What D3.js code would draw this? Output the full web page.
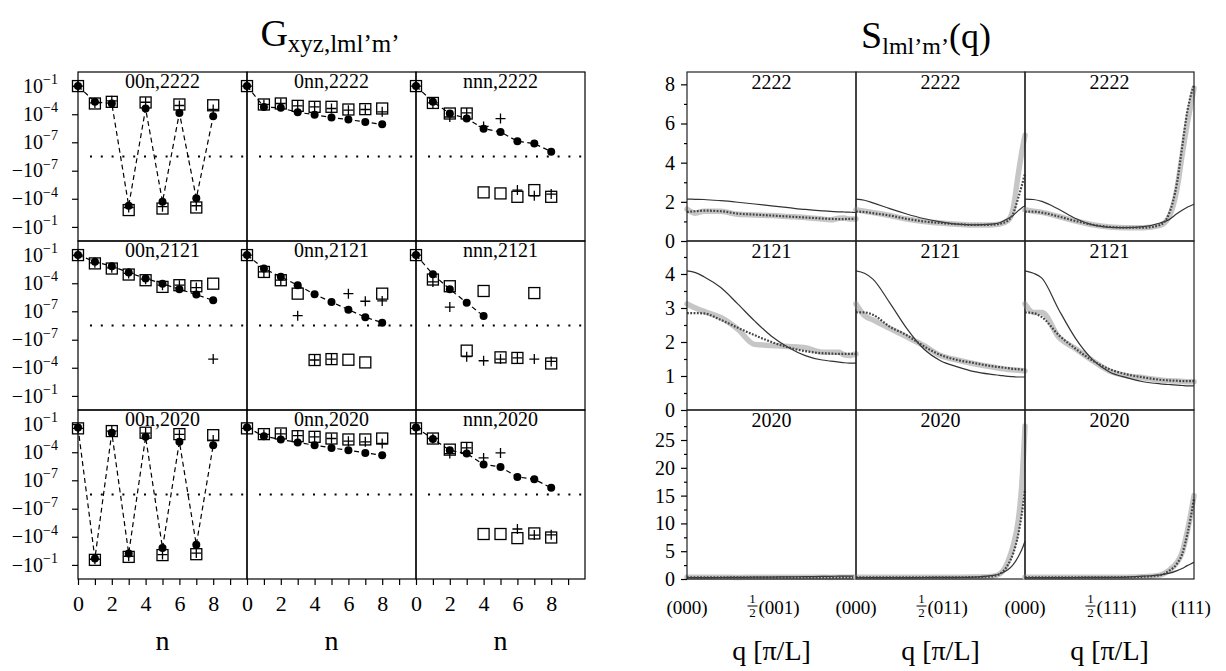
<!DOCTYPE html>
<meta charset="utf-8">
<style>
body { margin: 0; background: #fff; }
text { font-family: "Liberation Serif", "DejaVu Serif", serif; fill: #000; }
</style>
<svg width="1226" height="671"></svg>
<script src="https://cdn.jsdelivr.net/npm/d3@7"></script>
<script>
// ---- data -------------------------------------------------------------
var nValues = [0, 1, 2, 3, 4, 5, 6, 7, 8];
var shellCols = ['00n', '0nn', 'nnn'];
var channels = ['2222', '2121', '2020'];
var gTicks = [1e-1, 1e-4, 1e-7, -1e-7, -1e-4, -1e-1];

// G values, one list per column (00n, 0nn, nnn)
var circles2222 = [
	[1e-1, 2.1e-3, 1.4e-3, -5.6e-4, 4e-4, -2.1e-4, 1.4e-4, -9e-5, 6e-5],
	[1e-1, 6e-4, 4.8e-4, 1.6e-4, 9e-5, 4.4e-5, 2.7e-5, 1.5e-5, 8.5e-6],
	[1e-1, 2.1e-3, 1.2e-4, 3.5e-5, 2.9e-6, 1.3e-6, 1.3e-7, 7.2e-8, 7.2e-9]
];
var squares2222 = [
	[1e-1, 1.4e-3, 2.1e-3, -1.6e-3, 1.8e-3, -1.1e-3, 1.1e-3, -8.5e-4, 9e-4],
	[1e-1, 1.1e-3, 1.4e-3, 7.8e-4, 6.2e-4, 6.2e-4, 3.2e-4, 3.5e-4, 4.1e-4],
	[1e-1, 1.6e-3, 1.2e-4, 1.2e-4, -2.1e-5, -2.7e-5, -6.2e-5, -1.2e-5, -6.2e-5]
];
var plus2222 = [
	[1e-1, 1.6e-3, 2.7e-3, -8.5e-4, 1.9e-3, -7e-4, 8.5e-4, -5.6e-4, 3.2e-4],
	[1e-1, 1.1e-3, 1.4e-3, 7.8e-4, 6.2e-4, 4.1e-4, 2.7e-4, 3.2e-4, 1.8e-4],
	[1e-1, 1.6e-3, 5.1e-5, 1.4e-4, 5.1e-6, 3.5e-5, -1.2e-5, -4.8e-5, -3.2e-5]
];
var circles2121 = [
	[1e-1, 2e-2, 6.6e-3, 1.4e-3, 3.2e-4, 9e-5, 2.3e-5, 6.2e-6, 1.5e-6],
	[1e-1, 3.7e-3, 4.8e-4, 6.2e-5, 6.6e-6, 1e-6, 1.5e-7, 2.1e-8, 3.2e-9],
	[1e-1, 9e-4, 2.3e-5, 8.5e-7, 2.9e-8]
];
var squares2121 = [
	[1e-1, 1.3e-2, 3.7e-3, 8.5e-4, 2.1e-4, 4.1e-5, 6.2e-5, 4.8e-5, 9e-5],
	[1e-1, 1.6e-3, 2.1e-4, 7.8e-6, -1.5e-5, -1.2e-5, -1.4e-5, -2.7e-5, 7.8e-6],
	[1e-1, 2.5e-4, 4.8e-5, -1.5e-6, 1.5e-5, -7.8e-6, -9e-6, 9e-6, -3.5e-5]
];
var plus2121 = [
	[1e-1, 1.5e-2, 4.4e-3, 1.1e-3, 2.7e-4, 6.2e-5, 6.2e-5, 3.5e-5, -1.2e-5],
	[1e-1, 1.6e-3, 2.1e-4, 3.2e-8, -1.5e-5, -1.2e-5, 7.8e-6, 1.2e-6, 1.3e-6],
	[1e-1, 1.4e-4, 2.9e-7, -6.6e-6, -1.8e-5, -1.2e-5, -9e-6, -1.2e-5, -2.1e-5]
];
var circles2020 = [
	[4.4e-2, -2.1e-2, 1.2e-2, -6.2e-3, 4.4e-3, -1.6e-3, 1.3e-3, -7.2e-4, 5.6e-4],
	[4.4e-2, 5.1e-3, 2.3e-3, 1.1e-3, 5.6e-4, 2.9e-4, 1.6e-4, 8.5e-5, 4.8e-5],
	[4.4e-2, 2.5e-3, 1.6e-4, 7.2e-5, 5.1e-6, 2.7e-6, 2.3e-7, 1.3e-7, 1.3e-8]
];
var squares2020 = [
	[3.5e-2, -2.9e-2, 1.8e-2, -1.4e-2, 1.2e-2, -9e-3, 8.5e-3, -7.2e-3, 6.6e-3],
	[3.5e-2, 8.5e-3, 1e-2, 5.1e-3, 4.4e-3, 2.9e-3, 2.3e-3, 2.3e-3, 2.9e-3],
	[3.5e-2, 2.9e-3, 1.9e-4, 2.9e-4, -5.1e-5, -5.1e-5, -1.4e-4, -4.4e-5, -1.2e-4]
];
var plus2020 = [
	[3.5e-2, -2.5e-2, 1.8e-2, -1.2e-2, 1.1e-2, -8e-3, 8e-3, -5.5e-3, 2e-3],
	[3.5e-2, 8e-3, 9e-3, 6e-3, 4.4e-3, 2.9e-3, 1.5e-3, 1.3e-3, 8.5e-4],
	[3.5e-2, 2.9e-3, 7.2e-5, 2.9e-4, 2.5e-5, 8.5e-5, -1.5e-5, -6.6e-5, -6.2e-5]
];

// S(q): q along each path, 0 .. 1
var qGrid = [0, 0.05, 0.1, 0.2, 0.3, 0.4, 0.5, 0.6, 0.7, 0.8, 0.85, 0.9, 0.93, 0.96, 0.98, 1];
var pathStart = ['(000)', '(000)', '(000)'];
var pathMid = ['(001)', '(011)', '(111)'];
var pathEnd = '(111)';
var sMax = [8.63, 4.97, 30.4];
var sMajor = [[0, 2, 4, 6, 8], [0, 1, 2, 3, 4], [0, 5, 10, 15, 20, 25]];
var sMinor = [[1, 3, 5, 7], [0.5, 1.5, 2.5, 3.5, 4.5], [2.5, 7.5, 12.5, 17.5, 22.5, 27.5]];

var gray2222 = [
	[1.62, 1.42, 1.52, 1.52, 1.36, 1.33, 1.3, 1.25, 1.2, 1.12, 1.08, 1.16, 1.18, 1.12, 1.12, 1.13],
	[1.6, 1.52, 1.45, 1.3, 1.12, 1.0, 0.92, 0.86, 0.82, 0.82, 0.86, 1.05, 1.65, 3.4, 4.5, 5.4],
	[1.6, 1.52, 1.46, 1.25, 1.02, 0.83, 0.72, 0.68, 0.68, 0.8, 1.2, 2.7, 4.4, 6.0, 6.9, 7.8]
];
var fit2222 = [
	[1.48, 1.52, 1.55, 1.52, 1.4, 1.35, 1.3, 1.25, 1.2, 1.15, 1.13, 1.12, 1.12, 1.13, 1.13, 1.14],
	[1.5, 1.48, 1.42, 1.3, 1.13, 1.0, 0.92, 0.86, 0.82, 0.83, 0.88, 1.05, 1.4, 2.2, 2.8, 3.44],
	[1.5, 1.5, 1.45, 1.25, 1.02, 0.83, 0.72, 0.68, 0.68, 0.82, 1.35, 3.0, 4.8, 6.6, 7.4, 7.95]
];
var model2222 = [
	[2.14, 2.13, 2.12, 2.06, 1.98, 1.89, 1.79, 1.7, 1.61, 1.54, 1.51, 1.49, 1.48, 1.47, 1.465, 1.46],
	[2.14, 2.08, 1.95, 1.65, 1.38, 1.15, 0.98, 0.86, 0.82, 0.86, 0.93, 1.15, 1.3, 1.55, 1.68, 1.8],
	[2.14, 2.12, 2.02, 1.62, 1.15, 0.82, 0.7, 0.68, 0.73, 0.92, 1.08, 1.4, 1.57, 1.72, 1.8, 1.88]
];
var gray2121 = [
	[3.12, 3.0, 2.9, 2.72, 2.38, 1.93, 1.9, 1.87, 1.83, 1.7, 1.7, 1.7, 1.62, 1.6, 1.62, 1.65],
	[3.12, 2.78, 2.65, 2.4, 2.15, 1.9, 1.6, 1.47, 1.36, 1.27, 1.23, 1.19, 1.18, 1.17, 1.16, 1.15],
	[3.12, 2.87, 2.87, 2.14, 1.8, 1.45, 1.15, 1.01, 0.95, 0.88, 0.86, 0.85, 0.84, 0.83, 0.83, 0.83]
];
var fit2121 = [
	[2.85, 2.85, 2.84, 2.65, 2.42, 2.2, 2.0, 1.84, 1.73, 1.67, 1.66, 1.65, 1.65, 1.65, 1.65, 1.65],
	[2.87, 2.87, 2.8, 2.45, 2.2, 1.88, 1.62, 1.47, 1.38, 1.29, 1.26, 1.23, 1.21, 1.2, 1.19, 1.19],
	[2.87, 2.85, 2.73, 2.2, 1.8, 1.45, 1.2, 1.05, 0.96, 0.89, 0.87, 0.86, 0.85, 0.85, 0.85, 0.85]
];
var model2121 = [
	[4.09, 4.04, 3.92, 3.6, 3.12, 2.62, 2.17, 1.84, 1.6, 1.47, 1.44, 1.41, 1.39, 1.38, 1.38, 1.38],
	[4.09, 4.02, 3.85, 3.15, 2.4, 1.8, 1.45, 1.27, 1.13, 1.05, 1.02, 0.99, 0.98, 0.97, 0.97, 0.97],
	[4.09, 4.02, 3.88, 2.95, 2.1, 1.48, 1.12, 0.95, 0.83, 0.77, 0.75, 0.73, 0.72, 0.71, 0.71, 0.71]
];
var gray2020 = [
	[0.32, 0.3, 0.31, 0.3, 0.29, 0.3, 0.3, 0.31, 0.3, 0.3, 0.29, 0.3, 0.3, 0.3, 0.3, 0.31],
	[0.32, 0.3, 0.3, 0.3, 0.3, 0.3, 0.3, 0.32, 0.35, 0.45, 0.9, 3.2, 6.0, 10.5, 16.5, 27.5],
	[0.32, 0.3, 0.3, 0.3, 0.3, 0.3, 0.31, 0.33, 0.4, 0.7, 1.5, 3.0, 4.8, 8.5, 11.5, 15.0]
];
var fit2020 = [
	[0.3, 0.3, 0.3, 0.3, 0.3, 0.3, 0.3, 0.31, 0.31, 0.31, 0.31, 0.31, 0.31, 0.31, 0.31, 0.31],
	[0.3, 0.3, 0.3, 0.3, 0.3, 0.3, 0.3, 0.31, 0.34, 0.45, 0.9, 2.6, 4.6, 8.0, 11.5, 16.0],
	[0.3, 0.3, 0.3, 0.3, 0.3, 0.3, 0.31, 0.33, 0.4, 0.7, 1.4, 2.8, 4.5, 8.0, 11.0, 14.5]
];
var model2020 = [
	[0.25, 0.25, 0.26, 0.27, 0.29, 0.32, 0.35, 0.38, 0.42, 0.46, 0.48, 0.5, 0.51, 0.52, 0.53, 0.53],
	[0.25, 0.25, 0.25, 0.26, 0.26, 0.27, 0.28, 0.3, 0.35, 0.6, 0.9, 1.7, 2.6, 4.0, 5.2, 6.8],
	[0.25, 0.25, 0.25, 0.26, 0.27, 0.28, 0.3, 0.35, 0.5, 0.75, 1.0, 1.5, 1.9, 2.4, 2.7, 3.0]
];

var circleSets = [circles2222, circles2121, circles2020];
var squareSets = [squares2222, squares2121, squares2020];
var plusSets = [plus2222, plus2121, plus2020];
var graySets = [gray2222, gray2121, gray2020];
var fitSets = [fit2222, fit2121, fit2020];
var modelSets = [model2222, model2121, model2020];

// ---- layout -----------------------------------------------------------
var svg = d3.select('svg');
var serif = '"Liberation Serif", "DejaVu Serif", serif';
var rowTop = [72, 241, 410],
	rowH = 169,
	colW = 169,
	leftX0 = 78,
	rightX0 = 687;

function tidyAxis(ax, size) {
	ax.attr('font-family', serif).attr('font-size', size);
	ax.select('.domain').remove();
	ax.selectAll('line').attr('stroke-width', 1.2);
	ax.selectAll('text').style('font-family', serif).style('font-size', size + 'px');
}

// ---- left: G panels ---------------------------------------------------
var xN = d3.scaleLinear().domain([0, 10]).range([0, colW]);
var yG = d3
	.scaleSymlog()
	.constant(Math.pow(10, -8.5))
	.domain([-Math.sqrt(10), Math.sqrt(10)])
	.range([rowH, 0]);
var gLine = d3
	.line()
	.x((d, i) => xN(nValues[i]))
	.y(d => yG(d));

channels.forEach((ch, r) => {
	shellCols.forEach((sh, c) => {
		var g = svg
			.append('g')
			.attr('transform', 'translate(' + (leftX0 + c * colW) + ',' + rowTop[r] + ')');

		g.append('line')
			.attr('x1', 12)
			.attr('x2', colW)
			.attr('y1', yG(0))
			.attr('y2', yG(0))
			.attr('stroke', '#000')
			.attr('stroke-width', 2.2)
			.attr('stroke-dasharray', '2,8.8');

		g.append('text')
			.attr('x', colW / 2)
			.attr('y', 16)
			.attr('text-anchor', 'middle')
			.style('font-size', '20px')
			.text(sh + ',' + ch);

		g.append('path')
			.datum(circleSets[r][c])
			.attr('d', gLine)
			.attr('fill', 'none')
			.attr('stroke', '#000')
			.attr('stroke-width', 1.2)
			.attr('stroke-dasharray', '5,3.5');

		g.selectAll('rect.sq')
			.data(squareSets[r][c])
			.enter()
			.append('rect')
			.attr('x', (d, i) => xN(nValues[i]) - 5.5)
			.attr('y', d => yG(d) - 5.5)
			.attr('width', 11)
			.attr('height', 11)
			.attr('fill', 'none')
			.attr('stroke', '#000')
			.attr('stroke-width', 1.3);

		g.selectAll('path.pl')
			.data(plusSets[r][c])
			.enter()
			.append('path')
			.attr('transform', (d, i) => 'translate(' + xN(nValues[i]) + ',' + yG(d) + ')')
			.attr('d', 'M-5,0H5M0,-5V5')
			.attr('stroke', '#000')
			.attr('stroke-width', 1.3);

		g.selectAll('circle')
			.data(circleSets[r][c])
			.enter()
			.append('circle')
			.attr('cx', (d, i) => xN(nValues[i]))
			.attr('cy', d => yG(d))
			.attr('r', 4)
			.attr('fill', '#000');

		g.append('rect')
			.attr('width', colW)
			.attr('height', rowH)
			.attr('fill', 'none')
			.attr('stroke', '#000')
			.attr('stroke-width', 1.2);
	});

	// y axis
	var ax = svg
		.append('g')
		.attr('transform', 'translate(' + leftX0 + ',' + rowTop[r] + ')')
		.call(d3.axisLeft(yG).tickValues(gTicks).tickSize(6).tickFormat(''));
	tidyAxis(ax, 20);
	gTicks.forEach(v => {
		var t = svg
			.append('text')
			.attr('x', leftX0 - 20)
			.attr('y', rowTop[r] + yG(v))
			.attr('text-anchor', 'end')
			.style('font-size', '20px');
		t.append('tspan')
			.attr('dy', '0.33em')
			.text((v < 0 ? '\u2212' : '') + '10');
		t.append('tspan')
			.attr('dy', '-0.6em')
			.style('font-size', '14px')
			.text('\u2212' + Math.round(-Math.log10(Math.abs(v))));
	});
});

// x axis under the bottom row
shellCols.forEach((sh, c) => {
	var ax = svg
		.append('g')
		.attr('transform', 'translate(' + (leftX0 + c * colW) + ',' + (rowTop[2] + rowH) + ')')
		.call(
			d3
				.axisBottom(xN)
				.tickValues(d3.range(0, 10))
				.tickSize(6)
				.tickPadding(10)
				.tickFormat(d => (d % 2 === 0 && d <= 8 ? d : ''))
		);
	tidyAxis(ax, 22);

	svg.append('text')
		.attr('x', leftX0 + c * colW + colW / 2)
		.attr('y', 650)
		.attr('text-anchor', 'middle')
		.style('font-size', '28px')
		.text('n');
});

// ---- right: S(q) panels -----------------------------------------------
var xQ = d3.scaleLinear().domain([0, 1]).range([0, colW]);

channels.forEach((ch, r) => {
	var yS = d3.scaleLinear().domain([0, sMax[r]]).range([rowH, 0]);
	var sLine = d3
		.line()
		.x((d, i) => xQ(qGrid[i]))
		.y(d => yS(d))
		.curve(d3.curveMonotoneX);

	for (var c = 0; c < 3; c++) {
		var g = svg
			.append('g')
			.attr('transform', 'translate(' + (rightX0 + c * colW) + ',' + rowTop[r] + ')');

		g.append('path')
			.datum(graySets[r][c])
			.attr('d', sLine)
			.attr('fill', 'none')
			.attr('stroke', '#c6c6c6')
			.attr('stroke-width', 5.5)
			.attr('stroke-linecap', 'round')
			.attr('stroke-linejoin', 'round');

		g.append('path')
			.datum(modelSets[r][c])
			.attr('d', sLine)
			.attr('fill', 'none')
			.attr('stroke', '#333')
			.attr('stroke-width', 1.2);

		g.append('path')
			.datum(fitSets[r][c])
			.attr('d', sLine)
			.attr('fill', 'none')
			.attr('stroke', '#444')
			.attr('stroke-width', 2.2)
			.attr('stroke-dasharray', '1.8,1.5');

		g.append('text')
			.attr('x', colW / 2)
			.attr('y', 17)
			.attr('text-anchor', 'middle')
			.style('font-size', '20px')
			.text(ch);

		g.append('rect')
			.attr('width', colW)
			.attr('height', rowH)
			.attr('fill', 'none')
			.attr('stroke', '#222')
			.attr('stroke-width', 1.2);
	}

	var ax = svg
		.append('g')
		.attr('transform', 'translate(' + rightX0 + ',' + rowTop[r] + ')')
		.call(d3.axisLeft(yS).tickValues(sMajor[r]).tickSize(6).tickPadding(6).tickFormat(d3.format('d')));
	tidyAxis(ax, 20);

	var mx = svg
		.append('g')
		.attr('transform', 'translate(' + rightX0 + ',' + rowTop[r] + ')')
		.call(d3.axisLeft(yS).tickValues(sMinor[r]).tickSize(3).tickFormat(''));
	tidyAxis(mx, 20);
});

// q labels
var labelY = 614;
for (var c = 0; c < 3; c++) {
	var x0 = rightX0 + c * colW;
	svg.append('text')
		.attr('x', x0 + xQ(0))
		.attr('y', labelY)
		.attr('text-anchor', 'middle')
		.style('font-size', '19px')
		.text(pathStart[c]);

	var xm = x0 + xQ(0.5);
	svg.append('text')
		.attr('x', xm - 19)
		.attr('y', labelY - 11)
		.attr('text-anchor', 'middle')
		.style('font-size', '13px')
		.text('1');
	svg.append('line')
		.attr('x1', xm - 24)
		.attr('x2', xm - 14)
		.attr('y1', labelY - 8)
		.attr('y2', labelY - 8)
		.attr('stroke', '#000')
		.attr('stroke-width', 1);
	svg.append('text')
		.attr('x', xm - 19)
		.attr('y', labelY + 3)
		.attr('text-anchor', 'middle')
		.style('font-size', '13px')
		.text('2');
	svg.append('text')
		.attr('x', xm - 13)
		.attr('y', labelY)
		.style('font-size', '19px')
		.text(pathMid[c]);

	svg.append('text')
		.attr('x', x0 + colW / 2)
		.attr('y', 660)
		.attr('text-anchor', 'middle')
		.style('font-size', '28px')
		.text('q [\u03c0/L]');
}
svg.append('text')
	.attr('x', rightX0 + 2 * colW + xQ(1) - 3)
	.attr('y', labelY)
	.attr('text-anchor', 'middle')
	.style('font-size', '19px')
	.text(pathEnd);

// ---- titles -----------------------------------------------------------
var tG = svg.append('text').attr('x', 330).attr('y', 46).attr('text-anchor', 'middle');
tG.append('tspan').style('font-size', '38px').text('G');
tG.append('tspan').attr('dy', 6).style('font-size', '25px').text('xyz,lml\u2019m\u2019');

var tS = svg.append('text').attr('x', 926).attr('y', 48).attr('text-anchor', 'middle');
tS.append('tspan').style('font-size', '38px').text('S');
tS.append('tspan').attr('dy', 6).style('font-size', '24px').text('lml\u2019m\u2019');
tS.append('tspan').attr('dy', -6).style('font-size', '36px').text('(q)');
</script>
